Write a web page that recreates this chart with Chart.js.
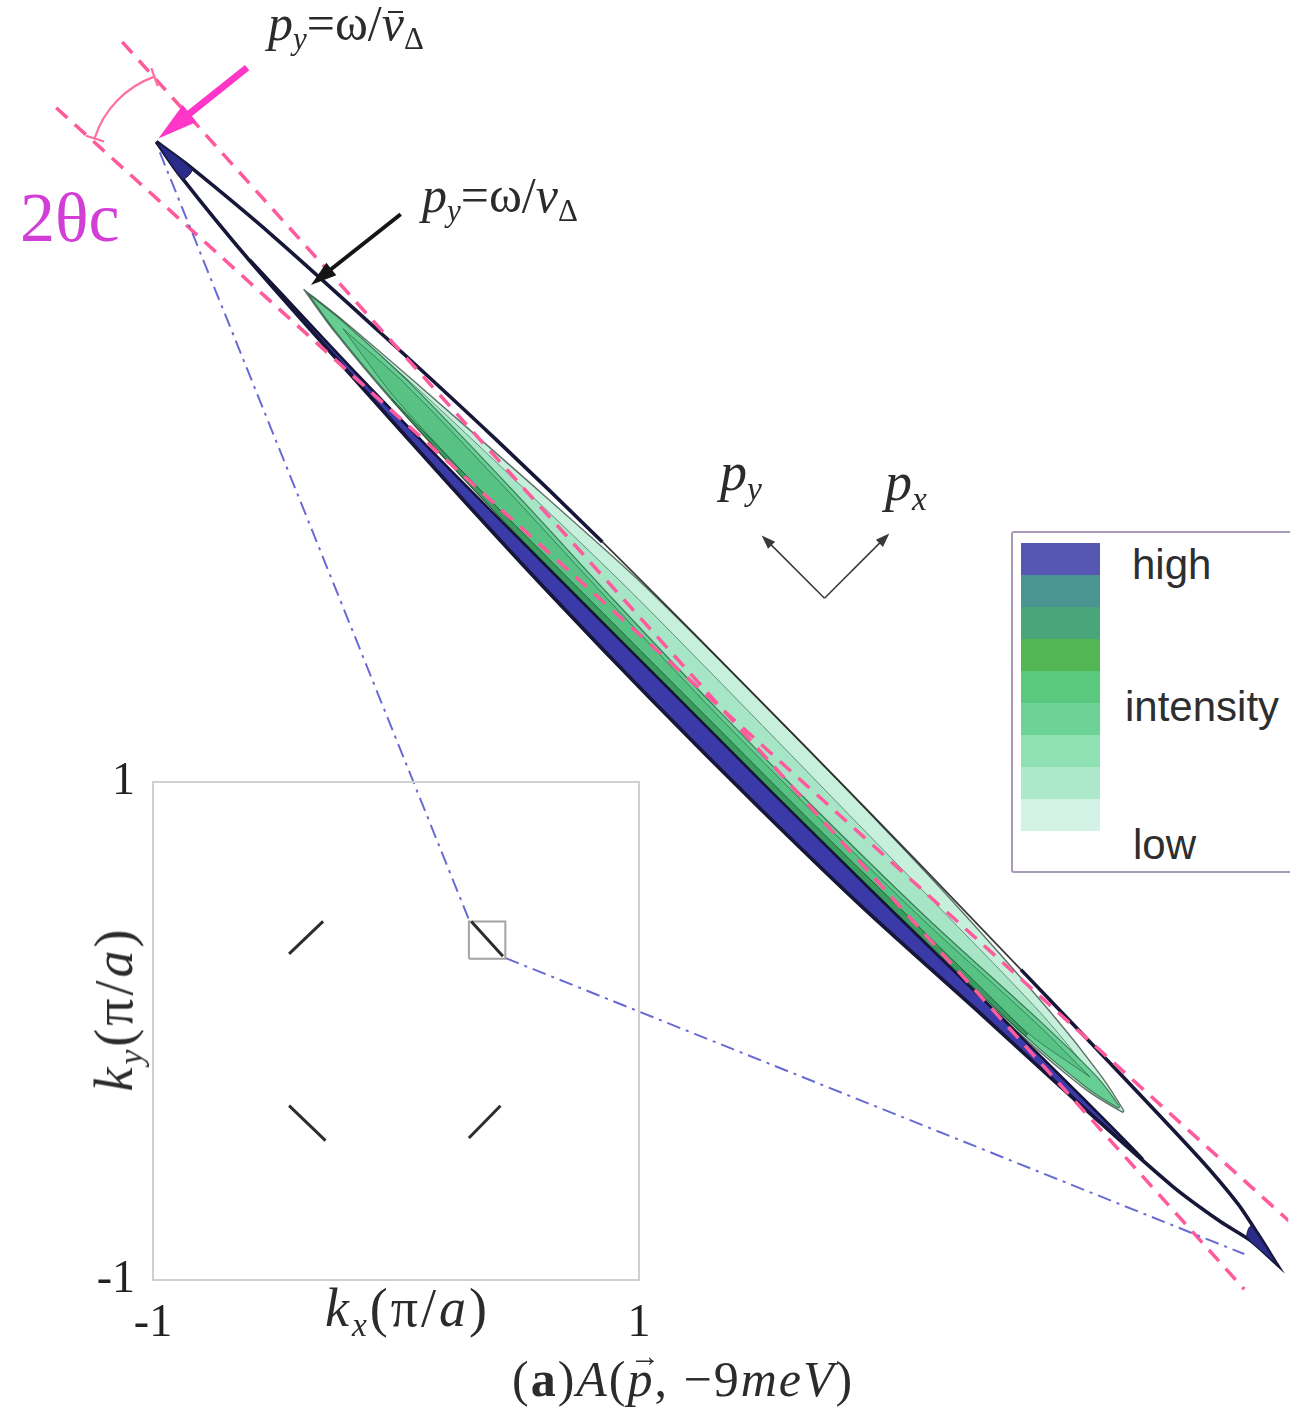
<!DOCTYPE html>
<html>
<head>
<meta charset="utf-8">
<title>A(p, -9meV)</title>
<script src="https://cdn.jsdelivr.net/npm/chart.js@4.4.1/dist/chart.umd.min.js"></script>
<style>
  body { margin: 0; background: #fff; }
  #wrap { position: relative; width: 1290px; height: 1412px; overflow: hidden; background: #fff; }
  #wrap canvas { position: absolute; }
  #main { left: 0; top: 0; }
  #inset { left: 60px; top: 740px; }
  .lab { position: absolute; white-space: nowrap; line-height: 1; font-family: 'Liberation Serif', 'DejaVu Serif', serif; color: #2b2b2b; }
  .lab sub { font-size: 0.62em; position: relative; top: 0.3em; vertical-align: baseline; line-height: 0; }
  .ov { position: relative; }
  .ov::before { content: ''; position: absolute; left: 0.12em; right: 0.02em; top: 0.32em; border-top: 2px solid #2b2b2b; }
  .vec { position: relative; display: inline-block; }
  .vec .arr { position: absolute; left: 0.08em; top: -0.42em; font-size: 0.6em; font-style: normal; }
  #legend { position: absolute; left: 1011px; top: 531px; width: 320px; height: 338px; border: 2px solid #a99ab8; border-radius: 3px; background: #fff; }
  #legend .sw { position: absolute; left: 8px; width: 79px; }
  #legend .txt { position: absolute; font-family: 'Liberation Sans', Arial, sans-serif; font-size: 42px; line-height: 1; color: #2e2e2e; }
</style>
</head>
<body>
<div id="wrap">
  <canvas id="main" width="1290" height="1412"></canvas>
  <canvas id="inset" width="620" height="620"></canvas>

  <div class="lab" style="left:268px; top:-2px; font-size:50px;"><i>p</i><sub><i>y</i></sub>=ω/<i class="ov">v</i><sub>Δ</sub></div>
  <div class="lab" style="left:422px; top:170px; font-size:50px;"><i>p</i><sub><i>y</i></sub>=ω/<i>v</i><sub>Δ</sub></div>
  <div class="lab" style="left:20px; top:183px; font-size:70px; color:#d13fd6;">2θc</div>
  <div class="lab" style="left:720px; top:445px; font-size:54px;"><i>p</i><sub><i>y</i></sub></div>
  <div class="lab" style="left:885px; top:455px; font-size:54px;"><i>p</i><sub><i>x</i></sub></div>

  <div id="legend">
    <div class="txt" style="left:119px; top:11px;">high</div>
    <div class="txt" style="left:112px; top:153px;">intensity</div>
    <div class="txt" style="left:120px; top:291px;">low</div>
  </div>

  <div class="lab" style="left:325px; top:1281px; font-size:54px; letter-spacing:3px;"><i>k</i><sub><i>x</i></sub>(π/<i>a</i>)</div>
  <div class="lab" style="left:114px; top:1009px; font-size:54px; letter-spacing:3px; transform:translate(-50%,-50%) rotate(-90deg);"><i>k</i><sub><i>y</i></sub>(π/<i>a</i>)</div>

  <div class="lab" style="left:512px; top:1354px; font-size:50px; letter-spacing:2px;">(<b>a</b>)<i>A</i>(<span class="vec"><i>p</i><span class="arr">→</span></span>, −9<i>meV</i>)</div>
</div>

<script>
// ---- data -------------------------------------------------------------
// main panel: contours of A(p, -9meV) around one node, in the rotated frame.
// py runs along the long axis (positive towards the upper-left tip), px across it.
const outerPy = [7.95, 7.55, 6.45, 4.95, 3.45, 1.95, 0.45, -1.05, -2.55, -4.05, -5.35, -6.65, -7.25, -7.60, -7.95];
const outerHi = [0, 0.06, 0.16, 0.24, 0.30, 0.33, 0.33, 0.32, 0.30, 0.27, 0.24, 0.20, 0.15, 0.08, 0];
const outerLo = [0, -0.07, -0.18, -0.27, -0.35, -0.41, -0.44, -0.44, -0.41, -0.33, -0.27, -0.19, -0.10, -0.02, 0];

// highest level (blue), runs along the lower edge
const bandPy  = [6.45, 4.95, 3.45, 1.95, 0.45, -1.05, -2.55, -4.05, -5.35, -6.25];
const bandOut = [-0.18, -0.27, -0.35, -0.41, -0.44, -0.44, -0.41, -0.33, -0.27, -0.215];
const bandIn  = [-0.17, -0.22, -0.24, -0.24, -0.24, -0.24, -0.23, -0.21, -0.20, -0.205];

// low level (light green spindle)
const spindlePy = [5.86, 5.35, 4.45, 2.95, 1.45, -0.05, -1.55, -3.05, -4.55, -5.35, -5.78];
const spindleHi = [0, 0.06, 0.13, 0.23, 0.315, 0.325, 0.31, 0.27, 0.18, 0.09, 0];
const spindleLo = [0, -0.08, -0.16, -0.22, -0.23, -0.23, -0.23, -0.21, -0.19, -0.12, -0.02];

// intermediate contour inside the light green
const ridgePy = [5.70, 4.45, 2.95, 1.45, -0.05, -1.55, -3.05, -4.55, -5.50];
const ridgeHi = [0, 0.10, 0.15, 0.18, 0.17, 0.15, 0.13, 0.10, 0];
const ridgeLo = [0, -0.15, -0.21, -0.22, -0.22, -0.22, -0.20, -0.17, -0.04];

// middle levels (green core)
const corePy = [5.80, 5.35, 4.45, 2.95, 1.45, -0.05, -1.55, -3.05, -4.55, -5.35, -5.72];
const coreHi = [0, 0.05, 0.09, 0.06, 0.0, -0.04, -0.05, -0.03, 0.04, 0.05, 0];
const coreLo = [0, -0.07, -0.15, -0.21, -0.22, -0.22, -0.22, -0.20, -0.17, -0.10, -0.02];

const innerPy = [5.30, 4.45, 2.95, 1.45, -0.05, -1.55, -3.05, -4.55, -5.30];
const innerHi = [0, 0.05, 0.02, -0.04, -0.08, -0.09, -0.07, 0.0, 0];
const innerLo = [0, -0.12, -0.18, -0.19, -0.19, -0.19, -0.17, -0.13, 0];

const deepPy = [4.45, 2.95, 1.45, -0.05, -1.55, -3.05, -4.55];
const deepHi = [-0.15, -0.17, -0.17, -0.17, -0.17, -0.15, -0.14];
const deepLo = [-0.16, -0.22, -0.23, -0.23, -0.23, -0.21, -0.17];

// filled tips of the outer contour
const tipTLPy = [7.95, 7.50, 7.50];
const tipTLPx = [0, 0.055, -0.075];
const tipBRPy = [-7.95, -7.50, -7.55];
const tipBRPx = [0, 0.085, -0.02];

// the two critical lines (2θc)
const critPy = [8.90, -7.90];
const critAPx = [0.465, -0.41];
const critBPx = [-0.47, 0.40];

// zoom links: main panel end points, inset box corners
const linkPy = [7.85, -7.65];
const linkPx = [-0.05, -0.16];
const zoomKx = [0.30, 0.45];
const zoomKy = [0.29, 0.44];

// inset: Fermi arcs at the four nodes
const arcKxStart = [0.31, -0.44, -0.44, 0.30];
const arcKyStart = [0.44, 0.31, -0.30, -0.43];
const arcKxEnd   = [0.44, -0.30, -0.29, 0.43];
const arcKyEnd   = [0.30, 0.44, -0.44, -0.30];
const insetTicks = [-1, 1];

const intensityColors = ['#5557b3', '#4a9492', '#49a67a', '#52b752', '#5bc97d', '#6cd296', '#8fe0b3', '#ade8cb', '#d1f2e4'];

// ---- layout of the main frame ------------------------------------------
const AXIS_TILT = 45.04 * Math.PI / 180;
const CENTER = { x: 7.167, y: 7.092 };

function toPlane(py, px) {
  return {
    x: CENTER.x - py * Math.cos(AXIS_TILT) + px * Math.sin(AXIS_TILT),
    y: CENTER.y + py * Math.sin(AXIS_TILT) + px * Math.cos(AXIS_TILT)
  };
}

function band(py, hi, lo) {
  const pts = [];
  for (let i = 0; i < py.length; i++) pts.push(toPlane(py[i], hi[i]));
  for (let i = py.length - 1; i >= 0; i--) pts.push(toPlane(py[i], lo[i]));
  pts.push(pts[0]);
  return pts;
}

function poly(py, px) {
  const pts = py.map((v, i) => toPlane(v, px[i]));
  pts.push(pts[0]);
  return pts;
}

// legend swatches
const legend = document.getElementById('legend');
intensityColors.forEach((c, i) => {
  const d = document.createElement('div');
  d.className = 'sw';
  d.style.top = (10 + i * 32) + 'px';
  d.style.height = '32px';
  d.style.background = c;
  legend.appendChild(d);
});

// ---- inset ---------------------------------------------------------------
const frame = {
  id: 'frame',
  afterDraw(chart) {
    const a = chart.chartArea, ctx = chart.ctx;
    ctx.save();
    ctx.strokeStyle = '#cfcfcf';
    ctx.lineWidth = 2;
    ctx.strokeRect(a.left, a.top, a.right - a.left, a.bottom - a.top);
    ctx.restore();
  }
};

const insetSets = arcKxStart.map((kx, i) => ({
  data: [{ x: kx, y: arcKyStart[i] }, { x: arcKxEnd[i], y: arcKyEnd[i] }],
  showLine: true, borderColor: '#2d2d2d', borderWidth: 3, pointRadius: 0
}));
insetSets.push({
  data: [
    { x: zoomKx[0], y: zoomKy[0] }, { x: zoomKx[1], y: zoomKy[0] },
    { x: zoomKx[1], y: zoomKy[1] }, { x: zoomKx[0], y: zoomKy[1] },
    { x: zoomKx[0], y: zoomKy[0] }
  ],
  showLine: true, borderColor: '#a3a3a3', borderWidth: 2, pointRadius: 0
});

const tickFont = { family: "'Liberation Serif', serif", size: 46 };
const insetCanvas = document.getElementById('inset');
const insetChart = new Chart(insetCanvas, {
  type: 'scatter',
  data: { datasets: insetSets },
  options: {
    responsive: false,
    animation: false,
    devicePixelRatio: 1,
    events: [],
    layout: { padding: { top: 42, right: 41, left: 0, bottom: 0 } },
    plugins: { legend: { display: false }, tooltip: { enabled: false } },
    scales: {
      x: {
        type: 'linear', min: -1, max: 1,
        afterBuildTicks: s => { s.ticks = insetTicks.map(v => ({ value: v })); },
        afterFit: s => { s.height = 80; },
        ticks: { font: tickFont, color: '#222', padding: 8, maxRotation: 0 },
        grid: { display: false },
        border: { display: false }
      },
      y: {
        type: 'linear', min: -1, max: 1,
        afterBuildTicks: s => { s.ticks = insetTicks.map(v => ({ value: v })); },
        afterFit: s => { s.width = 93; },
        ticks: { font: tickFont, color: '#222', padding: 10 },
        grid: { display: false },
        border: { display: false }
      }
    }
  },
  plugins: [frame]
});

// ---- main panel ----------------------------------------------------------
function arrow(ctx, from, to, color, width, headLen, headHalf) {
  const dx = to[0] - from[0], dy = to[1] - from[1];
  const len = Math.hypot(dx, dy);
  const ux = dx / len, uy = dy / len;
  const bx = to[0] - ux * headLen, by = to[1] - uy * headLen;
  ctx.save();
  ctx.strokeStyle = color;
  ctx.fillStyle = color;
  ctx.lineWidth = width;
  ctx.beginPath();
  ctx.moveTo(from[0], from[1]);
  ctx.lineTo(bx + ux * 2, by + uy * 2);
  ctx.stroke();
  ctx.beginPath();
  ctx.moveTo(to[0], to[1]);
  ctx.lineTo(bx - uy * headHalf, by + ux * headHalf);
  ctx.lineTo(bx + uy * headHalf, by - ux * headHalf);
  ctx.closePath();
  ctx.fill();
  ctx.restore();
}

const annotations = {
  id: 'annotations',
  afterDatasetsDraw(chart) {
    const { ctx, scales: { x, y } } = chart;
    const P = (a, b) => [x.getPixelForValue(a), y.getPixelForValue(b)];
    arrow(ctx, P(2.46, 13.46), P(1.57, 12.75), '#ff36c8', 7, 40, 11);
    arrow(ctx, P(4.00, 11.99), P(3.10, 11.28), '#151515', 4, 26, 8);
    arrow(ctx, P(8.25, 8.14), P(7.62, 8.77), '#3a3a3a', 1.6, 14, 5);
    arrow(ctx, P(8.25, 8.14), P(8.90, 8.79), '#3a3a3a', 1.6, 14, 5);

    // 2θc arc between the two critical lines
    const c = P(1.857, 12.453), e1 = P(0.93, 12.75), e2 = P(1.53, 13.37);
    const a1 = Math.atan2(e1[1] - c[1], e1[0] - c[0]);
    const a2 = Math.atan2(e2[1] - c[1], e2[0] - c[0]);
    const r = Math.hypot(e1[0] - c[0], e1[1] - c[1]);
    ctx.save();
    ctx.strokeStyle = '#ff6f9f';
    ctx.lineWidth = 2.2;
    ctx.beginPath();
    ctx.arc(c[0], c[1], r, a1, a2, false);
    ctx.stroke();
    [a1, a2].forEach(a => {
      ctx.beginPath();
      ctx.moveTo(c[0] + Math.cos(a) * (r - 10), c[1] + Math.sin(a) * (r - 10));
      ctx.lineTo(c[0] + Math.cos(a) * (r + 9), c[1] + Math.sin(a) * (r + 9));
      ctx.stroke();
    });
    ctx.restore();
  }
};

// upper edge of the outer contour turns into a thin broken line in the middle
const thinUpper = c => (c.p0DataIndex >= 5 && c.p0DataIndex <= 8);

const layers = [
  { data: band(spindlePy, spindleHi, spindleLo), fill: 'shape', backgroundColor: '#c7f0dc', borderColor: 'rgba(50,70,60,0.75)', borderWidth: 1.4 },
  { data: band(ridgePy, ridgeHi, ridgeLo), fill: 'shape', backgroundColor: '#a6e6c6', borderColor: 'rgba(40,80,60,0.6)', borderWidth: 1 },
  { data: band(corePy, coreHi, coreLo), fill: 'shape', backgroundColor: '#66ce93', borderColor: 'rgba(30,80,50,0.7)', borderWidth: 1.2 },
  { data: band(innerPy, innerHi, innerLo), fill: 'shape', backgroundColor: '#57c284', borderColor: 'rgba(30,80,50,0.6)', borderWidth: 1 },
  { data: band(deepPy, deepHi, deepLo), fill: 'shape', backgroundColor: '#3b9c60', borderColor: 'rgba(20,60,40,0.7)', borderWidth: 1 },
  { data: band(bandPy, bandIn, bandOut), fill: 'shape', backgroundColor: '#3a3aa8', borderColor: '#141436', borderWidth: 2.5 },
  {
    data: band(outerPy, outerHi, outerLo), fill: false, borderColor: '#17173a', borderWidth: 3.6,
    segment: {
      borderWidth: c => thinUpper(c) ? 1.8 : 3.6,
      borderColor: c => thinUpper(c) ? 'rgba(40,40,40,0.9)' : '#17173a'
    }
  },
  { data: poly(tipTLPy, tipTLPx), fill: 'shape', backgroundColor: '#2b2b8a', borderColor: '#1c1c4c', borderWidth: 1 },
  { data: poly(tipBRPy, tipBRPx), fill: 'shape', backgroundColor: '#2b2b8a', borderColor: '#1c1c4c', borderWidth: 1 },
  { data: critPy.map((v, i) => toPlane(v, critAPx[i])), fill: false, borderColor: '#ff5a9c', borderWidth: 3.5, borderDash: [15, 10], tension: 0 },
  { data: critPy.map((v, i) => toPlane(v, critBPx[i])), fill: false, borderColor: '#ff5a9c', borderWidth: 3.5, borderDash: [15, 10], tension: 0 },
  { data: [], fill: false, borderColor: '#6a6ad4', borderWidth: 2, borderDash: [14, 6, 3, 6], tension: 0 },
  { data: [], fill: false, borderColor: '#6a6ad4', borderWidth: 2, borderDash: [14, 6, 3, 6], tension: 0 }
];
layers.forEach((d, i) => {
  d.showLine = true;
  d.pointRadius = 0;
  if (d.tension === undefined) d.tension = 0.25;
  d.order = layers.length - i;
});

const mainChart = new Chart(document.getElementById('main'), {
  type: 'scatter',
  data: { datasets: layers },
  options: {
    responsive: false,
    animation: false,
    devicePixelRatio: 1,
    events: [],
    layout: { padding: 0 },
    plugins: { legend: { display: false }, tooltip: { enabled: false } },
    scales: {
      x: { type: 'linear', min: 0, max: 12.9, display: false },
      y: { type: 'linear', min: 0, max: 14.12, display: false }
    }
  },
  plugins: [annotations]
});

// zoom links: from the node box in the inset to the ends of the main contour
function insetCorner(kx, ky) {
  const px = insetChart.scales.x.getPixelForValue(kx) + insetCanvas.offsetLeft;
  const py = insetChart.scales.y.getPixelForValue(ky) + insetCanvas.offsetTop;
  return { x: mainChart.scales.x.getValueForPixel(px), y: mainChart.scales.y.getValueForPixel(py) };
}
const nLayers = layers.length;
mainChart.data.datasets[nLayers - 2].data = [toPlane(linkPy[0], linkPx[0]), insetCorner(zoomKx[0], zoomKy[1])];
mainChart.data.datasets[nLayers - 1].data = [insetCorner(zoomKx[1], zoomKy[0]), toPlane(linkPy[1], linkPx[1])];
mainChart.update('none');
</script>
</body>
</html>
